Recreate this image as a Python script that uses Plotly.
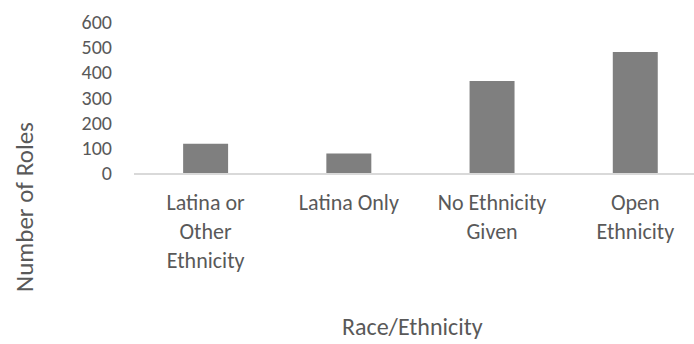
import plotly.graph_objects as go

categories = ["Latina or<br>Other<br>Ethnicity", "Latina Only", "No Ethnicity<br>Given", "Open<br>Ethnicity"]
values = [116, 77, 366, 481]
y_ticks = [0, 100, 200, 300, 400, 500, 600]

FONT = "Carlito, Calibri, Lato, sans-serif"
GREY = "#595959"

fig = go.Figure(go.Bar(x=categories, y=values, marker=dict(color="#7f7f7f", line=dict(width=0))))

L, T, B = 134, 22, 171
PW = 694 - L
PH = 344 - T - B

fig.update_layout(
    width=694, height=344,
    margin=dict(l=L, r=0, t=T, b=B),
    plot_bgcolor="white", paper_bgcolor="white",
    bargap=0.686,
    showlegend=False,
    font=dict(family=FONT, color=GREY, size=22),
)
fig.update_xaxes(
    range=[-0.5, 3.41],
    showline=True, linecolor="#d9d9d9", linewidth=2,
    showgrid=False, ticks="", tickfont=dict(size=22, color=GREY),
    ticklabelstandoff=9,
)
fig.update_yaxes(
    range=[0, 600], tickvals=y_ticks, showgrid=False, zeroline=False,
    showline=False, ticks="", tickfont=dict(size=20, color=GREY),
    ticklabelstandoff=21,
)
fig.add_annotation(text="Number of Roles", textangle=-90, xref="paper", yref="paper",
                   x=(24 - L) / PW, y=(344 - B - 207) / PH, xanchor="center", yanchor="middle",
                   showarrow=False, font=dict(size=25, color=GREY))
fig.add_annotation(text="Race/Ethnicity", xref="paper", yref="paper",
                   x=(412 - L) / PW, y=(344 - B - 326) / PH, xanchor="center", yanchor="middle",
                   showarrow=False, font=dict(size=24, color=GREY))

fig.write_html("out.html")
